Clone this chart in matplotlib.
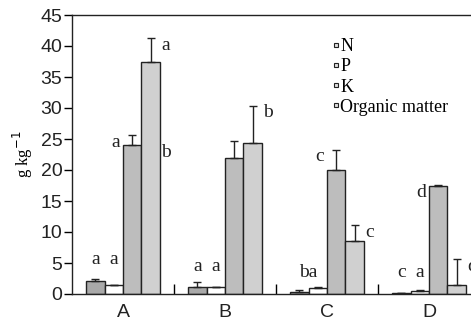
import matplotlib
matplotlib.use('Agg')
import matplotlib.pyplot as plt
import numpy as np
from matplotlib.lines import Line2D

sites = ['A', 'B', 'C', 'D']
series = ['N', 'P', 'K', 'Organic matter']
n_vals = [2.1, 1.1, 0.3, 0.1]
n_err = [0.4, 0.8, 0.4, 0.0]
p_vals = [1.4, 1.2, 0.9, 0.5]
p_err = [0.0, 0.0, 0.2, 0.1]
k_vals = [24.0, 21.9, 20.0, 17.4]
k_err = [1.7, 2.7, 3.3, 0.2]
om_vals = [37.5, 24.4, 8.5, 1.4]
om_err = [3.8, 6.0, 2.6, 4.2]
# significance letters (None = no letter shown)
n_letters = ['a', 'a', 'b', 'c']
p_letters = ['a', 'a', 'a', 'a']
k_letters = ['a', None, 'c', 'd']
om_letters = ['a', 'b', 'c', 'd']

colors = ['#a9a9a9', 'white', '#bdbdbd', '#d0d0d0']

fig = plt.figure(figsize=(4.71, 3.28), dpi=100)
ax = fig.add_axes([72/471, 34/328, 408/471, 279/328])

x = np.arange(len(sites)) + 0.5
w = 0.18
offsets = np.array([-1.5, -0.5, 0.5, 1.5]) * w
vals = [n_vals, p_vals, k_vals, om_vals]
errs = [n_err, p_err, k_err, om_err]
for i in range(4):
    ax.bar(x + offsets[i], vals[i], w, color=colors[i], edgecolor='#222222', linewidth=1.0, zorder=2)
    ax.errorbar(x + offsets[i], vals[i], yerr=[np.zeros(4), errs[i]], fmt='none',
                ecolor='#222222', elinewidth=1.0, capsize=3, capthick=1.0, zorder=3)

lf = dict(family='Liberation Serif', fontsize=14, color='#222222')
small_y = [5.6, 4.5, 3.4, 3.4]
for j in range(4):
    # letters above the N and P bars
    if sites[j] == 'C':
        ax.text(x[j] - w, small_y[j], 'ba', ha='center', va='center', **lf)
    else:
        ax.text(x[j] + offsets[0], small_y[j], n_letters[j], ha='center', va='center', **lf)
        ax.text(x[j] + offsets[1], small_y[j], p_letters[j], ha='center', va='center', **lf)
    if k_letters[j]:
        ax.text(x[j] + offsets[2] - w * 0.65, k_vals[j] + k_err[j] - 1.2, k_letters[j],
                ha='right', va='center', **lf)
    ax.text(x[j] + offsets[3] + w * 0.6, om_vals[j] + om_err[j] - 1.2, om_letters[j],
            ha='left', va='center', **lf)
ax.text(x[0] + offsets[3] + w * 0.6, 22.9, 'b', ha='left', va='center', **lf)

ax.set_xlim(0, 4)
ax.set_ylim(0, 45)
ax.set_yticks(np.arange(0, 46, 5))
ax.set_xticks(x)
ax.set_xticklabels(sites)
ax.set_xticks([1, 2, 3], minor=True)
ax.tick_params(axis='x', which='major', length=0, pad=7)
ax.tick_params(axis='x', which='minor', direction='in', length=7, width=1)
ax.tick_params(axis='y', direction='out', length=6, width=1, pad=1)
for lab in ax.get_xticklabels() + ax.get_yticklabels():
    lab.set_fontfamily('Liberation Sans')
    lab.set_fontsize(14)
    lab.set_color('#222222')
for s in ax.spines.values():
    s.set_linewidth(1.0)
    s.set_color('#222222')

ax.set_ylabel('g kg$^{-1}$', family='Liberation Serif', fontsize=12, labelpad=4)

handles = [Line2D([], [], marker='s', linestyle='none', markersize=3.2,
                  markerfacecolor='#e0e0e0', markeredgecolor='#222222',
                  markeredgewidth=0.8) for i in range(4)]
ax.legend(handles, series, loc='upper left', bbox_to_anchor=(333/471, 1 - 38/328),
          bbox_transform=fig.transFigure, frameon=False, handlelength=0.35,
          handletextpad=0.05, labelspacing=0.18, borderpad=0, borderaxespad=0,
          prop={'family': 'Liberation Serif', 'size': 13})

fig.savefig('out.png', dpi=100)
